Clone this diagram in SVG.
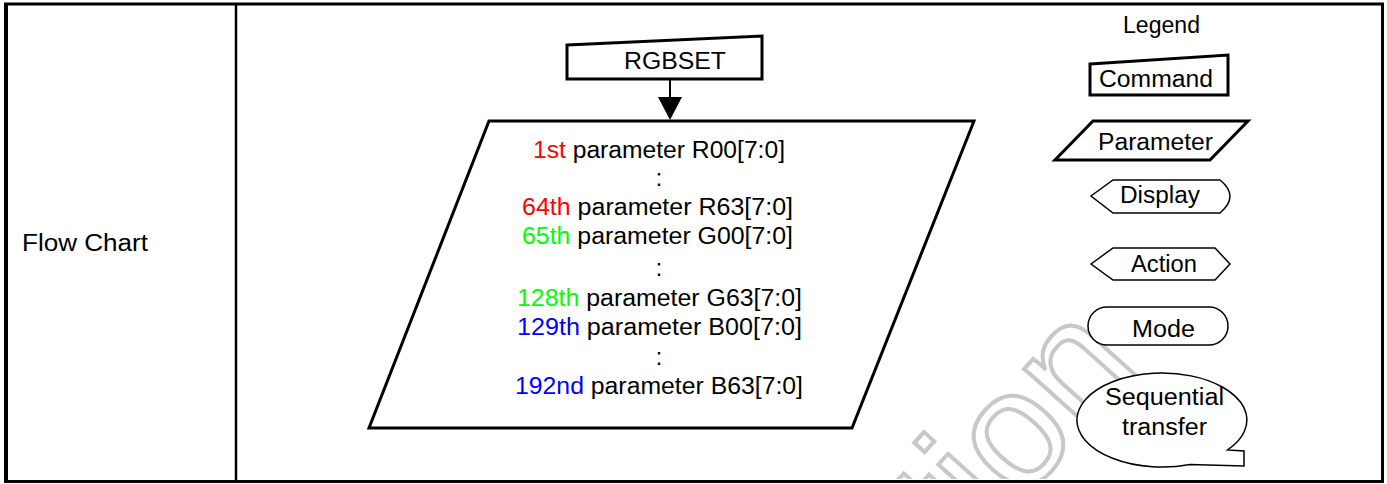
<svg xmlns="http://www.w3.org/2000/svg" width="1387" height="484" viewBox="0 0 1387 484">
<style>
text{font-family:"Liberation Sans",Arial,sans-serif;font-size:23px;fill:#000}
.r{fill:#ff0000}.g{fill:#00ff00}.b{fill:#0000ff}
.thick{fill:#fff;stroke:#000;stroke-width:3;stroke-linejoin:miter}
.thin{fill:#fff;stroke:#000;stroke-width:1.5;stroke-linejoin:miter}
.ml{text-anchor:middle}
.wm{font-size:165px;fill:#fff;stroke:#c8c8c8;stroke-width:4}
</style>
<defs>
<clipPath id="inner"><rect x="7" y="5" width="1374" height="474"/></clipPath>
</defs>
<g id="frame">
<rect x="5.5" y="4" width="1377" height="477.5" fill="#fff" stroke="#000" stroke-width="3"/>
<line x1="6" y1="3" x2="6" y2="483" stroke="#000" stroke-width="4"/>
<line x1="236" y1="4" x2="236" y2="481" stroke="#000" stroke-width="2.5"/>
<text x="22" y="251" textLength="126" lengthAdjust="spacingAndGlyphs">Flow Chart</text>
</g>
<g id="watermark" clip-path="url(#inner)">
<text class="wm" transform="translate(965,565) rotate(-48)">tion</text>
</g>
<g id="connectors">
<line x1="670" y1="79" x2="670" y2="98" stroke="#000" stroke-width="2"/>
<path d="M658,97 L682,97 L670,120 Z" fill="#000"/>
</g>
<g id="rgbset">
<path class="thick" d="M567,45 L762,36 L762,79 L567,79 Z"/>
<text x="624" y="69" textLength="102" lengthAdjust="spacingAndGlyphs">RGBSET</text>
</g>
<g id="parameters">
<path class="thick" d="M489,121 L974,121 L852,428 L369,428 Z"/>
<text x="533" y="158" textLength="252" lengthAdjust="spacingAndGlyphs"><tspan class="r">1st</tspan> parameter R00[7:0]</text>
<text x="659" y="186" class="ml">:</text>
<text x="522" y="215" textLength="271" lengthAdjust="spacingAndGlyphs"><tspan class="r">64th</tspan> parameter R63[7:0]</text>
<text x="522" y="244" textLength="271" lengthAdjust="spacingAndGlyphs"><tspan class="g">65th</tspan> parameter G00[7:0]</text>
<text x="659" y="276" class="ml">:</text>
<text x="517" y="306" textLength="285" lengthAdjust="spacingAndGlyphs"><tspan class="g">128th</tspan> parameter G63[7:0]</text>
<text x="517" y="335" textLength="285" lengthAdjust="spacingAndGlyphs"><tspan class="b">129th</tspan> parameter B00[7:0]</text>
<text x="659" y="365" class="ml">:</text>
<text x="515" y="394" textLength="288" lengthAdjust="spacingAndGlyphs"><tspan class="b">192nd</tspan> parameter B63[7:0]</text>
</g>
<g id="legend">
<text x="1123" y="33" textLength="77" lengthAdjust="spacingAndGlyphs">Legend</text>
</g>
<g id="legend-command">
<path class="thick" d="M1090,64 L1228,55 L1228,95 L1090,95 Z"/>
<text x="1099" y="87" textLength="114" lengthAdjust="spacingAndGlyphs">Command</text>
</g>
<g id="legend-parameter">
<path class="thick" d="M1093,121 L1248,121 L1210,160 L1055,160 Z"/>
<text x="1098" y="150" textLength="115" lengthAdjust="spacingAndGlyphs">Parameter</text>
</g>
<g id="legend-display">
<path class="thin" d="M1091,196 L1113,180 L1220,180 Q1240,196 1220,213 L1113,213 Z"/>
<text x="1120" y="203" textLength="80" lengthAdjust="spacingAndGlyphs">Display</text>
</g>
<g id="legend-action">
<path class="thin" d="M1091,264 L1113,248 L1215,248 L1230,264 L1215,280 L1113,280 Z"/>
<text x="1131" y="272" textLength="66" lengthAdjust="spacingAndGlyphs">Action</text>
</g>
<g id="legend-mode">
<rect class="thin" x="1088" y="307" width="140" height="38" rx="19" ry="19"/>
<text x="1132" y="337" textLength="63" lengthAdjust="spacingAndGlyphs">Mode</text>
</g>
<g id="legend-sequential">
<path class="thin" d="M1227.4,450 A85,47 0 1 0 1190,464.4 L1244,466 L1244,451 Z"/>
<text x="1105" y="405" textLength="119" lengthAdjust="spacingAndGlyphs">Sequential</text>
<text x="1122" y="435" textLength="85" lengthAdjust="spacingAndGlyphs">transfer</text>
</g>
</svg>
